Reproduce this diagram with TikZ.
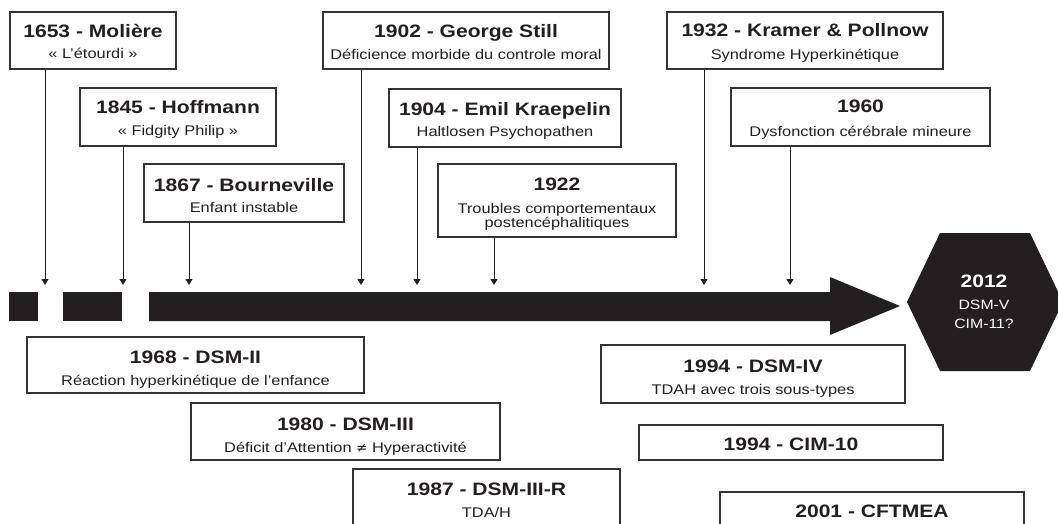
\documentclass[tikz,border=0pt]{standalone}
\usepackage{fontspec}
\setmainfont[FakeStretch=1.17]{Liberation Sans}
\usetikzlibrary{arrows.meta}
\definecolor{ink}{HTML}{231F20}
\definecolor{frame}{HTML}{333333}
\begin{document}
\begin{tikzpicture}[x=1pt,y=-1pt]
\tikzset{
  evbox/.style={draw=frame, line width=1.1pt, fill=white, inner sep=0pt},
  ttl/.style={font=\fontsize{18}{20}\selectfont\bfseries, text=ink, inner sep=0pt, anchor=base},
  sub/.style={font=\fontsize{14}{16}\selectfont, text=ink, inner sep=0pt, anchor=base},
  hexttl/.style={font=\fontsize{18}{20}\selectfont\bfseries, text=white, inner sep=0pt, anchor=base},
  hexsub/.style={font=\fontsize{13.5}{15}\selectfont, text=white, inner sep=0pt, anchor=base},
  conn/.style={draw=ink, line width=0.9pt, -{Triangle[width=7pt,length=6pt]}},
}
\useasboundingbox (0,0) rectangle (1058,524);
\clip (0,0) rectangle (1058,524);

% ---- timeline bar ----
\fill[ink] (9,292) rectangle (38,321);
\fill[ink] (63,292) rectangle (122,321);
\fill[ink] (149,292) -- (830,292) -- (830,277) -- (900,306) -- (830,335) -- (830,321) -- (149,321) -- cycle;

% ---- hexagon ----
\fill[ink] (907,302) -- (940,233) -- (1030,233) -- (1063,302) -- (1030,371) -- (940,371) -- cycle;
\node[hexttl] (h1) at (984,287) {2012};
\node[hexsub] (h2) at (984,309) {DSM-V};
\node[hexsub] (h3) at (984,328) {CIM-11?};

% ---- arrow targets on the bar ----
\coordinate (t1) at (45,285);
\coordinate (t2) at (123,285);
\coordinate (t3) at (189,285);
\coordinate (t4) at (361,285);
\coordinate (t5) at (417,285);
\coordinate (t6) at (494,285);
\coordinate (t7) at (704,285);
\coordinate (t8) at (790,285);

% ---- top boxes ----
\node[evbox, minimum width=166pt, minimum height=57pt] (moliere) at (93,40.5) {};
\node[ttl] at (93,38) {1653 - Molière};
\node[sub] at (93,59) {« L'étourdi »};

\node[evbox, minimum width=196pt, minimum height=58pt] (hoffmann) at (178,117) {};
\node[ttl] at (178,114) {1845 - Hoffmann};
\node[sub] at (178,136) {« Fidgity Philip »};

\node[evbox, minimum width=200pt, minimum height=58pt] (bourneville) at (244,193) {};
\node[ttl] at (244,191) {1867 - Bourneville};
\node[sub] at (244,212) {Enfant instable};

\node[evbox, minimum width=286pt, minimum height=57pt] (still) at (466,40.5) {};
\node[ttl] at (466,38) {1902 - George Still};
\node[sub] at (466,60) {Déficience morbide du controle moral};

\node[evbox, minimum width=232pt, minimum height=58pt] (kraepelin) at (505,118) {};
\node[ttl] at (505,116) {1904 - Emil Kraepelin};
\node[sub] at (505,137) {Haltlosen Psychopathen};

\node[evbox, minimum width=238pt, minimum height=73pt] (y1922) at (557,200.5) {};
\node[ttl] at (557,190) {1922};
\node[sub] at (557,213) {Troubles comportementaux};
\node[sub] at (557,227) {postencéphalitiques};

\node[evbox, minimum width=276pt, minimum height=57pt] (kramer) at (805,40.5) {};
\node[ttl] at (805,37) {1932 - Kramer \& Pollnow};
\node[sub] at (805,60) {Syndrome Hyperkinétique};

\node[evbox, minimum width=259pt, minimum height=58pt] (y1960) at (860.5,117) {};
\node[ttl] at (860.5,113) {1960};
\node[sub] at (860.5,137) {Dysfonction cérébrale mineure};

% ---- connectors ----
\draw[conn] (moliere.south -| t1) -- (t1);
\draw[conn] (hoffmann.south -| t2) -- (t2);
\draw[conn] (bourneville.south -| t3) -- (t3);
\draw[conn] (still.south -| t4) -- (t4);
\draw[conn] (kraepelin.south -| t5) -- (t5);
\draw[conn] (y1922.south -| t6) -- (t6);
\draw[conn] (kramer.south -| t7) -- (t7);
\draw[conn] (y1960.south -| t8) -- (t8);

% ---- bottom boxes ----
\node[evbox, minimum width=337pt, minimum height=56pt] (dsmII) at (195.5,365) {};
\node[ttl] at (195.5,363) {1968 - DSM-II};
\node[sub] at (195.5,385) {Réaction hyperkinétique de l’enfance};

\node[evbox, minimum width=309pt, minimum height=57pt] (dsmIII) at (345.5,431.5) {};
\node[ttl] at (345.5,430) {1980 - DSM-III};
\node[sub] at (345.5,452) {Déficit d’Attention {\fontspec{DejaVu Sans}\fontsize{13.5}{15}\selectfont ≠} Hyperactivité};

\node[evbox, minimum width=267pt, minimum height=91pt] (dsmIIIR) at (486.5,514.5) {};
\node[ttl] at (486.5,495) {1987 - DSM-III-R};
\node[sub] at (486.5,517) {TDA/H};

\node[evbox, minimum width=304pt, minimum height=58pt] (dsmIV) at (753,374) {};
\node[ttl] at (753,372) {1994 - DSM-IV};
\node[sub] at (753,394) {TDAH avec trois sous-types};

\node[evbox, minimum width=304pt, minimum height=35pt] (cim10) at (791,442.5) {};
\node[ttl] at (791,450) {1994 - CIM-10};

\node[evbox, minimum width=304pt, minimum height=68pt] (cftmea) at (872,526) {};
\node[ttl] at (872,517) {2001 - CFTMEA};
\end{tikzpicture}
\end{document}
